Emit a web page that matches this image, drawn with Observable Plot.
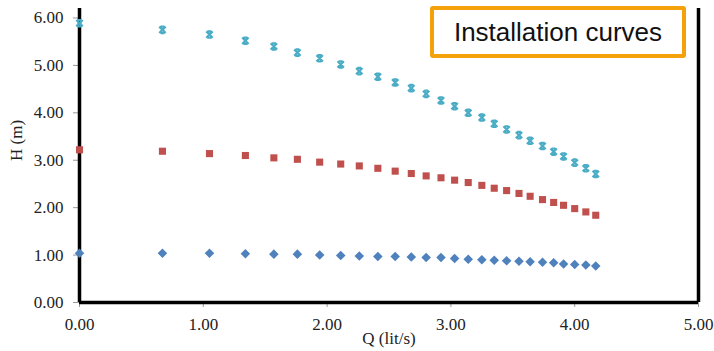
<!DOCTYPE html>
<html>
<head>
<meta charset="utf-8">
<script src="https://cdn.jsdelivr.net/npm/d3@7"></script>
<script src="https://cdn.jsdelivr.net/npm/@observablehq/plot@0.6"></script>
<style>
  body { margin: 0; background: #fff; }
  #wrap { position: relative; width: 714px; height: 351px; }
  .note {
    position: absolute; left: 430px; top: 6px; width: 256px; height: 52px;
    box-sizing: border-box; border: 4px solid #F4A10B; border-radius: 3px;
    background: #fff; font-family: "Liberation Sans", Arial, sans-serif;
    font-size: 26px; color: #111; display: flex; align-items: center; justify-content: center;
  }
</style>
</head>
<body>
<div id="wrap"></div>
<script>
// Flow rate Q (lit/s)
const Q = [0.00, 0.67, 1.05, 1.34, 1.57, 1.76, 1.94, 2.11, 2.26, 2.41, 2.55, 2.68, 2.80, 2.92,
           3.03, 3.14, 3.25, 3.35, 3.45, 3.55, 3.64, 3.74, 3.83, 3.91, 4.00, 4.09, 4.17];
// Head H (m) for the three installation curves
const H_low  = [1.04, 1.04, 1.04, 1.03, 1.02, 1.02, 1.00, 0.99, 0.98, 0.97, 0.97, 0.96, 0.95, 0.95,
                0.93, 0.91, 0.90, 0.89, 0.88, 0.87, 0.86, 0.85, 0.84, 0.81, 0.80, 0.79, 0.77];
const H_mid  = [3.22, 3.19, 3.14, 3.10, 3.05, 3.02, 2.96, 2.92, 2.88, 2.83, 2.77, 2.72, 2.67, 2.63,
                2.58, 2.53, 2.47, 2.41, 2.36, 2.30, 2.24, 2.17, 2.11, 2.05, 1.98, 1.91, 1.84];
const H_high = [5.89, 5.75, 5.65, 5.52, 5.40, 5.27, 5.15, 5.02, 4.88, 4.76, 4.64, 4.52, 4.40, 4.26,
                4.14, 4.00, 3.90, 3.77, 3.65, 3.53, 3.41, 3.30, 3.18, 3.08, 2.95, 2.83, 2.71];
const xTicks = [0, 1, 2, 3, 4, 5];
const yTicks = [0, 1, 2, 3, 4, 5, 6];
const noteText = "Installation curves";

const low = Q.map((q, i) => ({Q: q, H: H_low[i]}));
const mid = Q.map((q, i) => ({Q: q, H: H_mid[i]}));
const high = Q.map((q, i) => ({Q: q, H: H_high[i]}));

// Excel-like star marker: an X with short bars on top and bottom
const starSymbol = {
  draw(context, size) {
    const r = Math.sqrt(size) * 0.5;
    const b = r * 0.6;
    context.moveTo(-r, -r); context.lineTo(r, r);
    context.moveTo(r, -r); context.lineTo(-r, r);
    context.moveTo(-b, -r); context.lineTo(b, -r);
    context.moveTo(-b, r); context.lineTo(b, r);
  }
};

const fmt = d3.format(".2f");

const chart = Plot.plot({
  width: 714,
  height: 351,
  marginLeft: 79,
  marginRight: 16,
  marginTop: 8,
  marginBottom: 49,
  style: {fontFamily: "'Liberation Serif', 'Times New Roman', serif", fontSize: "17px", color: "#222", background: "#fff"},
  x: {domain: [0, 5]},
  y: {domain: [0, 6.2]},
  marks: [
    Plot.axisX({ticks: xTicks, tickFormat: fmt, tickSize: 5, tickPadding: 10, stroke: "#999", fontSize: 17, label: null}),
    Plot.axisY({ticks: yTicks, tickFormat: fmt, tickSize: 6, tickPadding: 10, stroke: "#999", fontSize: 17, label: null}),
    Plot.ruleX([0, 5], {stroke: "#000", strokeWidth: 3.5}),
    Plot.ruleY([0], {stroke: "#000", strokeWidth: 3.5}),
    Plot.dot(low, {x: "Q", y: "H", symbol: "diamond2", r: 4.3, fill: "#4F81BD", stroke: "none"}),
    Plot.dot(mid, {x: "Q", y: "H", symbol: "square", r: 4, fill: "#C0504D", stroke: "none"}),
    Plot.dot(high, {x: "Q", y: "H", symbol: starSymbol, r: 3.6, fill: "none", stroke: "#4BACC6", strokeWidth: 2.2}),
    Plot.text(["Q (lit/s)"], {frameAnchor: "bottom", dy: 41, text: d => d, fontSize: 17, fill: "#222"}),
    Plot.text(["H (m)"], {frameAnchor: "left", textAnchor: "middle", dx: -63, dy: -15, rotate: -90, text: d => d, fontSize: 17, fill: "#222"})
  ]
});

const wrap = document.getElementById("wrap");
wrap.appendChild(chart);
const note = document.createElement("div");
note.className = "note";
note.textContent = noteText;
wrap.appendChild(note);
</script>
</body>
</html>
